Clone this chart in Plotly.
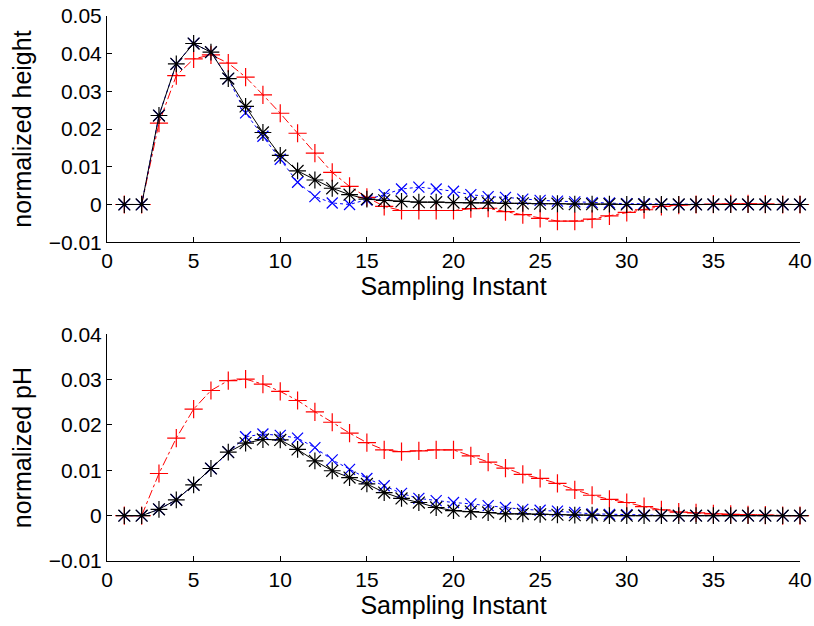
import plotly.graph_objects as go
from plotly.subplots import make_subplots

x = list(range(1, 41))

h_black = [0, 0, 0.0236, 0.0373, 0.0427, 0.0404, 0.0334, 0.0260, 0.0191, 0.0130,
           0.0089, 0.0065, 0.0043, 0.0026, 0.0014, 0.0011, 0.0008, 0.0006, 0.0006, 0.0005,
           0.0004, 0.0004, 0.0003, 0.0003, 0.0002, 0.0002, 0.0001, 0.0001, 0.0001, 0,
           0, 0, 0, 0, 0, 0, 0, 0, 0, 0]
h_blue = [0, 0, 0.0236, 0.0373, 0.0427, 0.0404, 0.0334, 0.0243, 0.0181, 0.0120,
          0.0059, 0.0021, 0.0004, 0.0000, 0.0012, 0.0026, 0.0041, 0.0046, 0.0041, 0.0035,
          0.0026, 0.0021, 0.0019, 0.0014, 0.0011, 0.0009, 0.0007, 0.0005, 0.0004, 0.0002,
          0.0002, 0.0001, 0, 0, 0, 0, 0, 0, 0, 0]
h_red = [0, 0, 0.0216, 0.0342, 0.0386, 0.0397, 0.0375, 0.0338, 0.0291, 0.0242,
         0.0189, 0.0136, 0.0085, 0.0048, 0.0019, -0.0005, -0.0016, -0.0016, -0.0016, -0.0016,
         -0.0011, -0.0010, -0.0019, -0.0027, -0.0037, -0.0044, -0.0044, -0.0039, -0.0030, -0.0021,
         -0.0014, -0.0005, -0.0002, 0, 0.0001, 0.0002, 0.0002, 0.0001, 0, 0]

p_black = [0, 0, 0.0014, 0.0035, 0.0068, 0.0104, 0.0140, 0.0160, 0.0168, 0.0167,
           0.0146, 0.0121, 0.0099, 0.0084, 0.0070, 0.0051, 0.0038, 0.0029, 0.0018, 0.0011,
           0.0009, 0.0007, 0.0004, 0.0004, 0.0003, 0.0002, 0.0001, 0.0001, 0, 0,
           0, 0, 0, 0, 0, 0, 0, 0, 0, 0]
p_blue = [0, 0, 0.0014, 0.0035, 0.0068, 0.0104, 0.0140, 0.0174, 0.0180, 0.0177,
          0.0171, 0.0150, 0.0123, 0.0102, 0.0082, 0.0066, 0.0049, 0.0038, 0.0033, 0.0029,
          0.0026, 0.0022, 0.0018, 0.0014, 0.0012, 0.0010, 0.0007, 0.0004, 0.0003, 0.0002,
          0.0001, 0, 0, 0, 0, 0, 0, 0, 0, 0]
p_red = [0, 0, 0.0093, 0.0171, 0.0235, 0.0276, 0.0298, 0.0301, 0.0290, 0.0274,
         0.0254, 0.0229, 0.0206, 0.0182, 0.0161, 0.0145, 0.0141, 0.0143, 0.0145, 0.0145,
         0.0132, 0.0118, 0.0105, 0.0091, 0.0082, 0.0071, 0.0057, 0.0045, 0.0036, 0.0029,
         0.0020, 0.0013, 0.0008, 0.0006, 0.0004, 0.0003, 0.0002, 0.0001, 0, 0]

x_ticks = [0, 5, 10, 15, 20, 25, 30, 35, 40]
y1_ticks = [-0.01, 0, 0.01, 0.02, 0.03, 0.04, 0.05]
y2_ticks = [-0.01, 0, 0.01, 0.02, 0.03, 0.04]

def fmt(v):
    if v == 0:
        return "0"
    s = f"{v:.2f}"
    return s.replace("-", "\u2212")

fig = make_subplots(rows=2, cols=1)

def add_series(row, yb, yl, yr):
    fig.add_trace(go.Scatter(x=x, y=yr, mode="lines+markers",
                             line=dict(color="#ff0000", width=1, dash="dashdot"),
                             marker=dict(symbol="cross-thin-open", size=13,
                                         line=dict(color="#ff0000", width=1.2)),
                             showlegend=False, cliponaxis=False), row=row, col=1)
    fig.add_trace(go.Scatter(x=x, y=yl, mode="lines+markers",
                             line=dict(color="#0000ff", width=1, dash="dot"),
                             marker=dict(symbol="x-thin-open", size=11,
                                         line=dict(color="#0000ff", width=1.2)),
                             showlegend=False, cliponaxis=False), row=row, col=1)
    fig.add_trace(go.Scatter(x=x, y=yb, mode="lines+markers",
                             line=dict(color="#000000", width=1),
                             marker=dict(symbol="asterisk-open", size=14,
                                         line=dict(color="#000000", width=1.2)),
                             showlegend=False, cliponaxis=False), row=row, col=1)

add_series(1, h_black, h_blue, h_red)
add_series(2, p_black, p_blue, p_red)

font_fam = "Liberation Sans, Arial, sans-serif"
axis_common = dict(showgrid=False, zeroline=False, showline=True, linecolor="black",
                   linewidth=1, ticks="inside", ticklen=5, tickcolor="black",
                   tickfont=dict(family=font_fam, size=21, color="black"),
                   mirror=False, automargin=False)

fig.update_xaxes(range=[0, 40], tickvals=x_ticks, ticktext=[str(t) for t in x_ticks],
                 title=dict(text="Sampling Instant", standoff=0,
                            font=dict(family=font_fam, size=25, color="black")),
                 **axis_common)
fig.update_yaxes(**axis_common)
fig.update_yaxes(range=[-0.01, 0.05], tickvals=y1_ticks, ticktext=[fmt(v) for v in y1_ticks],
                 title=dict(text="normalized height", standoff=9,
                            font=dict(family=font_fam, size=25, color="black")),
                 domain=[0.585, 1.0], row=1, col=1)
fig.update_yaxes(range=[-0.01, 0.04], tickvals=y2_ticks, ticktext=[fmt(v) for v in y2_ticks],
                 title=dict(text="normalized pH", standoff=9,
                            font=dict(family=font_fam, size=25, color="black")),
                 domain=[0.0, 0.416], row=2, col=1)
fig.update_xaxes(domain=[0, 1])

fig.update_layout(width=814, height=626, margin=dict(l=107, r=14, t=16, b=65),
                  plot_bgcolor="white", paper_bgcolor="white",
                  font=dict(family=font_fam, color="black"))

fig.write_html("out.html")
